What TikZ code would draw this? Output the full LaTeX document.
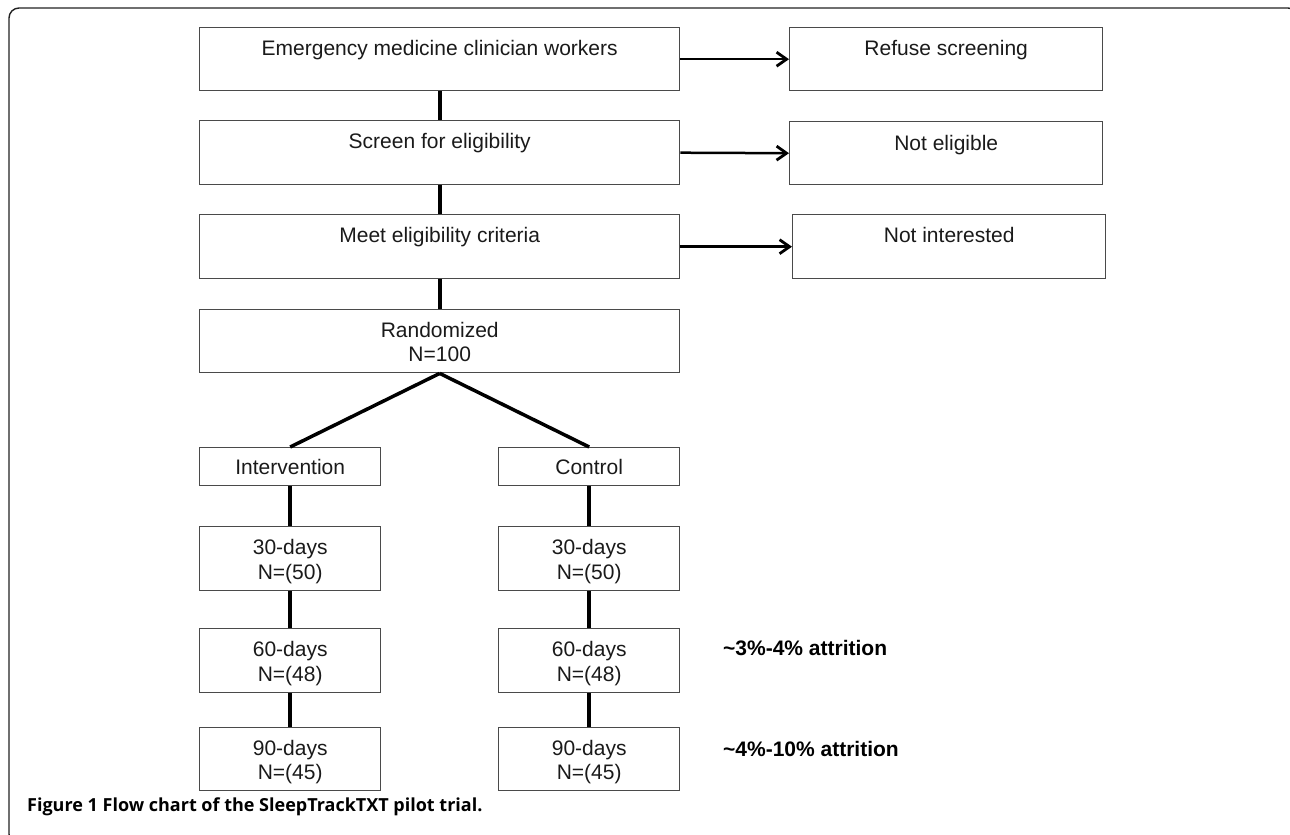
\documentclass[tikz,border=0pt]{standalone}
\usepackage{fontspec}
\setmainfont{Liberation Sans}
\newfontfamily\capfont{Open Sans}
\usetikzlibrary{arrows.meta}
\definecolor{boxgray}{HTML}{4A4A4A}
\definecolor{txtblack}{HTML}{1A1A1A}
\definecolor{framecol}{HTML}{222222}
\begin{document}
\begin{tikzpicture}[x=1pt,y=-1pt,
  box/.style={draw=boxgray, line width=1.4pt, rectangle, inner sep=0pt, anchor=north west},
  txt/.style={font=\fontsize{21pt}{25pt}\selectfont, inner sep=0pt, anchor=base, text=txtblack},
  boldtxt/.style={font=\bfseries\fontsize{21pt}{25pt}\selectfont, inner sep=0pt, anchor=base west, text=black},
  link/.style={line width=4pt, black},
  diag/.style={line width=3.5pt, black},
  arr/.style={line width=2.5pt, black, -{Straight Barb[length=10pt,width=14pt,line width=2.8pt]}},
  framestyle/.style={draw=framecol, line width=1.4pt, rounded corners=10pt}
]
\useasboundingbox (0,0) rectangle (1290,835);
\draw[framestyle] (9,8) rectangle (1298,844);

% main column
\node[box, minimum width=480pt, minimum height=63pt] (b1) at (199,27) {};
\node[txt] (t1) at ([yshift=-28pt]b1.north) {Emergency medicine clinician workers};
\node[box, minimum width=480pt, minimum height=64pt] (b2) at (199,120) {};
\node[txt] (t2) at ([yshift=-28pt]b2.north) {Screen for eligibility};
\node[box, minimum width=480pt, minimum height=64pt] (b3) at (199,214) {};
\node[txt] (t3) at ([yshift=-28pt]b3.north) {Meet eligibility criteria};

% exclusion boxes
\node[box, minimum width=313pt, minimum height=63pt] (r1) at (789,27) {};
\node[txt] (u1) at ([yshift=-28pt]r1.north) {Refuse screening};
\node[box, minimum width=313pt, minimum height=63pt] (r2) at (789,121) {};
\node[txt] (u2) at ([yshift=-29pt]r2.north) {Not eligible};
\node[box, minimum width=313pt, minimum height=64pt] (r3) at (792,214) {};
\node[txt] (u3) at ([yshift=-28pt]r3.north) {Not interested};

% randomized
\node[box, minimum width=480pt, minimum height=63pt] (rd) at (199,309) {};
\node[txt] (rda) at ([yshift=-28.5pt]rd.north) {Randomized};
\node[txt] (rdb) at ([yshift=-52.5pt]rd.north) {N=100};

% arms
\node[box, minimum width=181pt, minimum height=38pt] (iv) at (199,447) {};
\node[txt] (ivt) at ([yshift=-27pt]iv.north) {Intervention};
\node[box, minimum width=181pt, minimum height=38pt] (ct) at (498,447) {};
\node[txt] (ctt) at ([yshift=-27pt]ct.north) {Control};

% follow-ups, intervention
\node[box, minimum width=181pt, minimum height=64pt] (i30) at (199,526) {};
\node[txt] at ([yshift=-28pt]i30.north) {30-days};
\node[txt] at ([yshift=-53pt]i30.north) {N=(50)};
\node[box, minimum width=181pt, minimum height=64pt] (i60) at (199,628) {};
\node[txt] at ([yshift=-28pt]i60.north) {60-days};
\node[txt] at ([yshift=-53pt]i60.north) {N=(48)};
\node[box, minimum width=181pt, minimum height=63pt] (i90) at (199,727) {};
\node[txt] at ([yshift=-28pt]i90.north) {90-days};
\node[txt] at ([yshift=-52.5pt]i90.north) {N=(45)};

% follow-ups, control
\node[box, minimum width=181pt, minimum height=64pt] (c30) at (498,526) {};
\node[txt] at ([yshift=-28pt]c30.north) {30-days};
\node[txt] at ([yshift=-53pt]c30.north) {N=(50)};
\node[box, minimum width=181pt, minimum height=64pt] (c60) at (498,628) {};
\node[txt] at ([yshift=-28pt]c60.north) {60-days};
\node[txt] at ([yshift=-53pt]c60.north) {N=(48)};
\node[box, minimum width=181pt, minimum height=63pt] (c90) at (498,727) {};
\node[txt] at ([yshift=-28pt]c90.north) {90-days};
\node[txt] at ([yshift=-52.5pt]c90.north) {N=(45)};

% attrition notes
\node[boldtxt] (a1) at (723,655.5) {\textasciitilde3\%-4\% attrition};
\node[boldtxt] (a2) at (723,756.5) {\textasciitilde4\%-10\% attrition};

% caption
\node[anchor=base west, inner sep=0pt, font=\capfont\bfseries\fontsize{18pt}{21pt}\selectfont] (cap) at (27,811) {Figure 1 Flow chart of the SleepTrackTXT pilot trial.};

% connectors
\draw[link] (b1.south) -- (b2.north);
\draw[link] (b2.south) -- (b3.north);
\draw[link] (b3.south) -- (rd.north);
\draw[arr] (b1.east) -- (r1.west);
\draw[arr] (b2.east) -- (r2.west);
\draw[arr] (b3.east) -- (r3.west);
\draw[diag] (rd.south) -- (iv.north);
\draw[diag] (rd.south) -- (ct.north);
\draw[link] (iv.south) -- (i30.north);
\draw[link] (i30.south) -- (i60.north);
\draw[link] (i60.south) -- (i90.north);
\draw[link] (ct.south) -- (c30.north);
\draw[link] (c30.south) -- (c60.north);
\draw[link] (c60.south) -- (c90.north);
\end{tikzpicture}
\end{document}
